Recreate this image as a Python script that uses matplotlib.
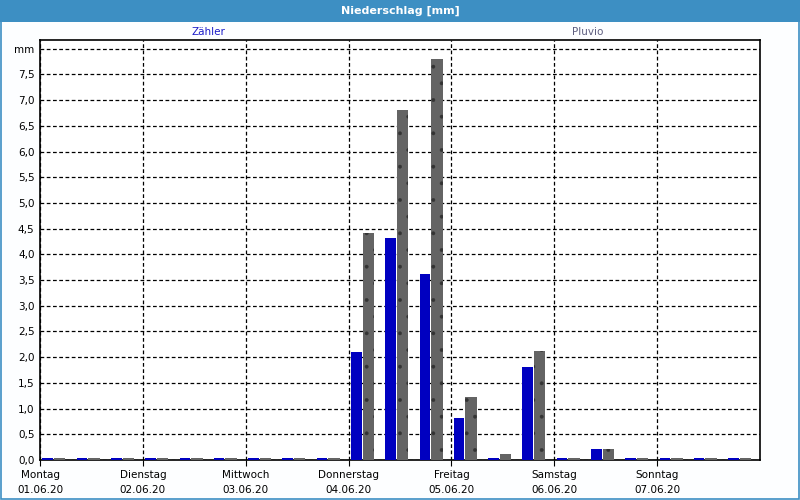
# Niederschlag: Zähler vs. Pluvio, 8-Stunden-Summen über eine Woche

import matplotlib.pyplot as plt
from matplotlib.patches import Rectangle
import numpy

plt.rcParams['font.family'] = ['DejaVu Sans']
plt.rcParams['hatch.linewidth'] = 0.3

days = ['Montag', 'Dienstag', 'Mittwoch', 'Donnerstag', 'Freitag', 'Samstag', 'Sonntag']
dates = ['01.06.20', '02.06.20', '03.06.20', '04.06.20', '05.06.20', '06.06.20', '07.06.20']

# 3 Intervalle pro Tag (mm)
zaehler = [0.03, 0.03, 0.03, 0.03, 0.03, 0.03, 0.03, 0.03, 0.03,
           2.10, 4.32, 3.62,
           0.82, 0.03, 1.81,
           0.03, 0.21, 0.03,
           0.03, 0.03, 0.03]
pluvio = [0.03, 0.03, 0.03, 0.03, 0.03, 0.03, 0.03, 0.03, 0.03,
          4.42, 6.81, 7.80,
          1.23, 0.12, 2.12,
          0.03, 0.21, 0.03,
          0.03, 0.03, 0.03]

yticks = numpy.arange(0, 8.01, 0.5)
ytick_labels = [('%.1f' % v).replace('.', ',') for v in yticks[:-1]] + ['mm']

blue = '#0000c0'
grey = '#646464'
frame_blue = '#3d8fc3'

fig = plt.figure(figsize=(8, 5), dpi=100, facecolor='#fdfeff')
ax = fig.add_axes([0.05, 0.08, 0.90, 0.84])
ax.set_facecolor('white')

slots = numpy.arange(len(zaehler))
ax.bar(slots + 0.07, zaehler, width=0.31, align='edge', color=blue, linewidth=0, zorder=3)
ax.bar(slots + 0.41, pluvio, width=0.33, align='edge', color=grey, edgecolor='#333333',
       hatch='.', linewidth=0, zorder=3)

ax.set_xlim(0, 21)
ax.set_ylim(0, 8.17)

ax.set_yticks(yticks)
ax.set_yticklabels(ytick_labels)
ax.set_xticks(numpy.arange(0, 21, 3))
ax.set_xticklabels([d + '\n' + t for d, t in zip(days, dates)], linespacing=1.6)
ax.tick_params(axis='y', length=0, pad=4, labelsize=7.5)
ax.tick_params(axis='x', length=4, direction='out', pad=3, labelsize=7.5)

ax.grid(True, color='black', linestyle=(0, (3, 2)), linewidth=0.9, zorder=1)
for spine in ax.spines.values():
    spine.set_color('black')
    spine.set_linewidth(1.2)

# Titelleiste und Rahmen
fig.patches.append(Rectangle((0, 1 - 22 / 500), 1, 22 / 500, transform=fig.transFigure,
                             facecolor=frame_blue, edgecolor='none', zorder=0))
fig.patches.append(Rectangle((0.001, 0.002), 0.998, 0.997, transform=fig.transFigure,
                             facecolor='none', edgecolor=frame_blue, linewidth=1.2, zorder=0))
fig.text(0.5, 1 - 11 / 500, 'Niederschlag [mm]', color='white', fontsize=8,
         fontweight='bold', ha='center', va='center')

fig.text(208 / 800, 1 - 32 / 500, 'Zähler', color='#1c1cc8', fontsize=7.5, ha='center', va='center')
fig.text(588 / 800, 1 - 32 / 500, 'Pluvio', color='#5e5e80', fontsize=7.5, ha='center', va='center')

fig.savefig('out.png', dpi=100, facecolor=fig.get_facecolor())
